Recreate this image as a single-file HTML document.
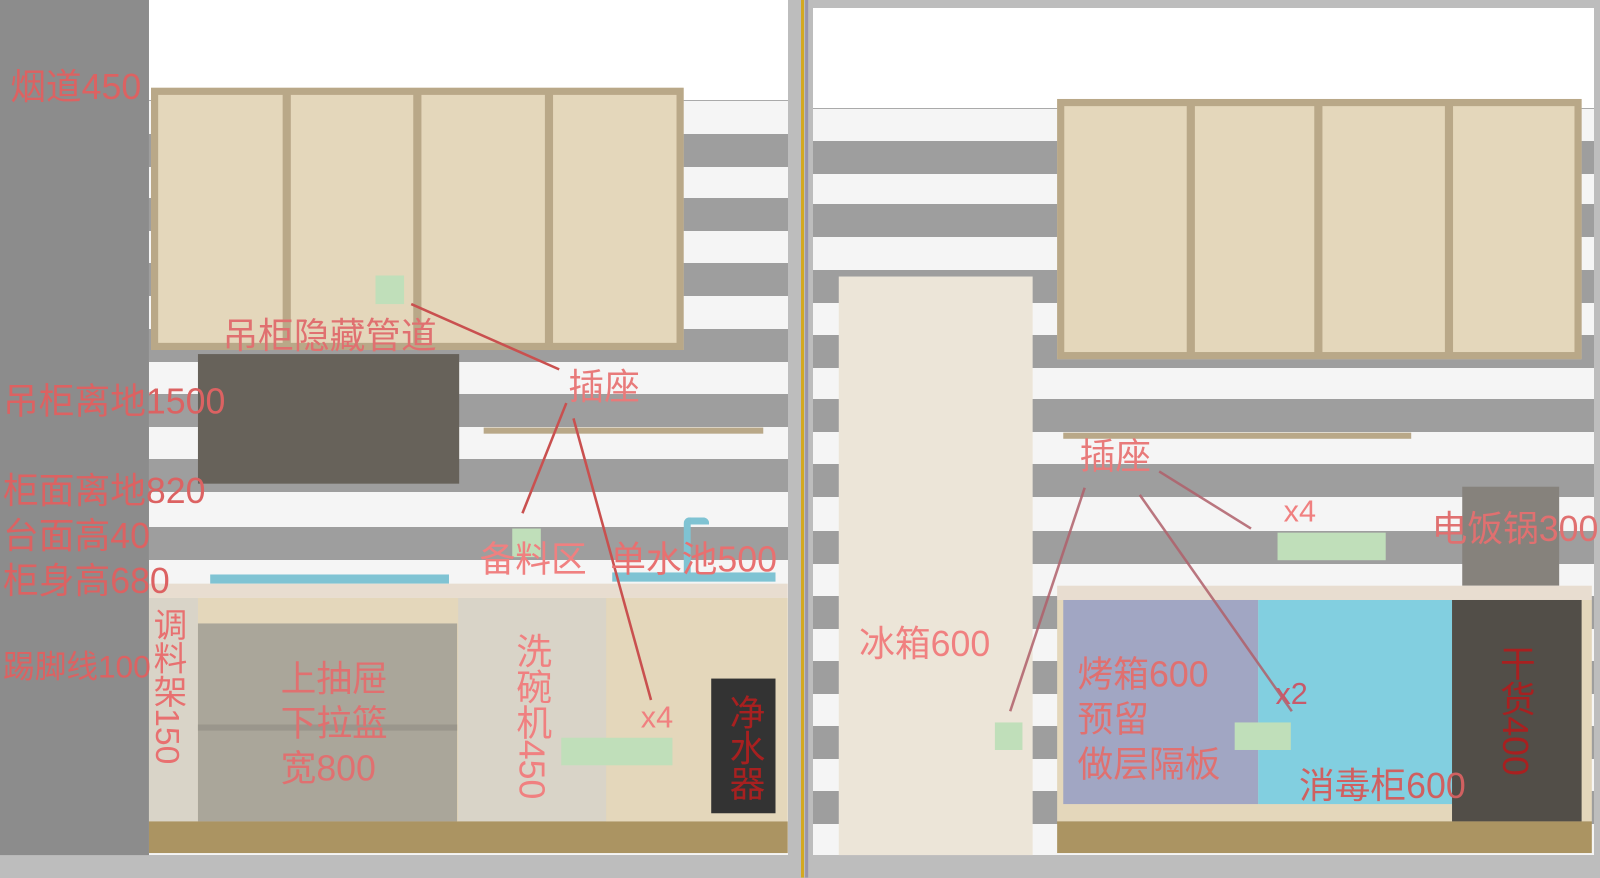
<!DOCTYPE html>
<html><head><meta charset="utf-8"><style>
body{margin:0;width:1600px;height:860px;position:relative;overflow:hidden;background:#bdbdbd;font-family:"Liberation Sans Narrow","Liberation Sans","Noto Sans CJK SC",sans-serif}
div{position:absolute;box-sizing:border-box}
#s{left:0;top:0;width:1568px;height:843px;transform:scale(1.0204);transform-origin:0 0}
.l{color:#dc6262;font-size:35px;line-height:1;white-space:nowrap}
.g{background:#9e9e9e;height:33px}
.w{background:#f5f5f5}
.cab{background:#e4d7bb;border:7px solid #b9a888}
.dv{background:#b9a888;width:8px}
.gr{background:#c0dfba}
.v{writing-mode:vertical-rl;}
</style></head><body>
<!-- unscaled backgrounds (real coords) -->
<div style="left:0;top:0;width:788px;height:855px;background:#fff"></div>
<div class="w" style="left:149px;top:100px;width:639px;height:755px;border-top:1px solid #aaa"></div>
<div class="g" style="left:149px;top:134px;width:639px"></div>
<div class="g" style="left:149px;top:198px;width:639px"></div>
<div class="g" style="left:149px;top:263px;width:639px"></div>
<div class="g" style="left:149px;top:329px;width:639px"></div>
<div class="g" style="left:149px;top:394px;width:639px"></div>
<div class="g" style="left:149px;top:459px;width:639px"></div>
<div class="g" style="left:149px;top:527px;width:639px"></div>
<div style="left:813px;top:8px;width:781px;height:847px;background:#fff"></div>
<div class="w" style="left:813px;top:108px;width:781px;height:747px;border-top:1px solid #aaa"></div>
<div class="g" style="left:813px;top:141px;width:781px"></div>
<div class="g" style="left:813px;top:204px;width:781px"></div>
<div class="g" style="left:813px;top:270px;width:781px"></div>
<div class="g" style="left:813px;top:335px;width:781px"></div>
<div class="g" style="left:813px;top:399px;width:781px"></div>
<div class="g" style="left:813px;top:464px;width:781px"></div>
<div class="g" style="left:813px;top:531px;width:781px"></div>
<div class="g" style="left:813px;top:596px;width:781px"></div>
<div class="g" style="left:813px;top:661px;width:781px"></div>
<div class="g" style="left:813px;top:726px;width:781px"></div>
<div class="g" style="left:813px;top:791px;width:781px"></div>

<div id="s">
<div style="left:0;top:0;width:146px;height:838px;background:#8c8c8c"></div>
<div class="cab" style="left:148px;top:86px;width:522px;height:257px"></div>
<div class="dv" style="left:277px;top:90px;height:250px"></div>
<div class="dv" style="left:405px;top:90px;height:250px"></div>
<div class="dv" style="left:534px;top:90px;height:250px"></div>
<div class="gr" style="left:368px;top:270px;width:28px;height:28px"></div>
<div style="left:194px;top:347px;width:256px;height:127px;background:#67625a"></div>
<div style="left:474px;top:419px;width:274px;height:6px;background:#b9a888"></div>
<div style="left:206px;top:563px;width:234px;height:9px;background:#7fc3d3"></div>
<div style="left:600px;top:561px;width:160px;height:9px;background:#7fc3d3"></div>
<div style="left:670px;top:507px;width:25px;height:55px;border:7px solid #7fc3d3;border-bottom:none;border-radius:6px 6px 0 0;border-right-width:0"></div>
<div class="gr" style="left:502px;top:518px;width:28px;height:28px"></div>
<div style="left:146px;top:572px;width:626px;height:14px;background:#e8ddd0"></div>
<div style="left:146px;top:586px;width:626px;height:219px;background:#e4d7bb"></div>
<div style="left:146px;top:586px;width:48px;height:219px;background:#d9d4c8"></div>
<div style="left:194px;top:611px;width:254px;height:194px;background:#aaa69a"></div>
<div style="left:194px;top:710px;width:254px;height:6px;background:#9a968c"></div>
<div style="left:449px;top:586px;width:145px;height:219px;background:#d9d4c8"></div>
<div style="left:697px;top:665px;width:63px;height:132px;background:#333"></div>
<div class="gr" style="left:550px;top:723px;width:109px;height:27px"></div>
<div style="left:146px;top:805px;width:626px;height:31px;background:#ab9462"></div>
<div style="left:785px;top:0;width:3px;height:860px;background:#d4a820"></div>
<div style="left:789px;top:0;width:3px;height:860px;background:#9a94a8"></div>
<div class="cab" style="left:1036px;top:97px;width:514px;height:255px"></div>
<div class="dv" style="left:1163px;top:100px;height:249px"></div>
<div class="dv" style="left:1288px;top:100px;height:249px"></div>
<div class="dv" style="left:1416px;top:100px;height:249px"></div>
<div style="left:822px;top:271px;width:190px;height:567px;background:#ece5d8"></div>
<div style="left:1042px;top:424px;width:341px;height:6px;background:#b9a888"></div>
<div style="left:1433px;top:477px;width:95px;height:97px;background:#86827c"></div>
<div class="gr" style="left:1252px;top:522px;width:106px;height:27px"></div>
<div style="left:1036px;top:574px;width:524px;height:14px;background:#e8ddd0"></div>
<div style="left:1036px;top:588px;width:524px;height:217px;background:#e4d7bb"></div>
<div style="left:1042px;top:588px;width:191px;height:200px;background:#a1a6c3"></div>
<div style="left:1233px;top:588px;width:190px;height:200px;background:#82cfe0"></div>
<div style="left:1423px;top:588px;width:127px;height:217px;background:#524e48"></div>
<div style="left:1036px;top:805px;width:524px;height:31px;background:#ab9462"></div>
<div class="gr" style="left:975px;top:708px;width:27px;height:27px"></div>
<div class="gr" style="left:1210px;top:708px;width:55px;height:27px"></div>
<svg style="position:absolute;left:0;top:0" width="1568" height="843">
<g stroke="#c9504f" stroke-width="2.5">
<line x1="403" y1="298" x2="548" y2="362"/>
<line x1="555" y1="395" x2="512" y2="503"/>
<line x1="562" y1="410" x2="638" y2="686"/>
</g>
<g stroke="#b0606a" stroke-width="2.5" opacity="0.85">
<line x1="1063" y1="478" x2="990" y2="697"/>
<line x1="1117" y1="485" x2="1266" y2="697"/>
<line x1="1136" y1="462" x2="1226" y2="518"/>
</g>
</svg>
<div class="l" style="left:10px;top:68px">烟道450</div>
<div class="l" style="left:218px;top:312px;color:#e07070">吊柜隐藏管道</div>
<div class="l" style="left:3px;top:376px">吊柜离地1500</div>
<div class="l" style="left:557px;top:362px;color:#e87a7a">插座</div>
<div class="l" style="left:3px;top:464px">柜面离地820</div>
<div class="l" style="left:3px;top:508px">台面高40</div>
<div class="l" style="left:3px;top:552px">柜身高680</div>
<div class="l" style="left:470px;top:531px;color:#f08080">备料区</div>
<div class="l" style="left:598px;top:531px;color:#e87070">单水池500</div>
<div class="l" style="left:3px;top:638px;font-size:31px">踢脚线100</div>
<div class="l v" style="left:148px;top:595px;font-size:33px;color:#e87070">调料架150</div>
<div class="l" style="left:275px;top:644px;line-height:44px;color:#e07070">上抽屉<br>下拉篮<br>宽800</div>
<div class="l v" style="left:503px;top:620px;color:#f08080">洗碗机450</div>
<div class="l" style="left:628px;top:689px;font-size:30px;color:#f08080">x4</div>
<div class="l v" style="left:712px;top:680px;color:#a82020">净水器</div>
<div class="l" style="left:1058px;top:430px;color:#e87a7a">插座</div>
<div class="l" style="left:1258px;top:487px;font-size:30px;color:#f08080">x4</div>
<div class="l" style="left:1403px;top:501px;color:#e07070">电饭锅300</div>
<div class="l" style="left:842px;top:614px;color:#f08080">冰箱600</div>
<div class="l" style="left:1056px;top:640px;line-height:44px;color:#e07070">烤箱600<br>预留<br>做层隔板</div>
<div class="l" style="left:1250px;top:666px;font-size:30px;color:#c85a6a">x2</div>
<div class="l" style="left:1273px;top:753px;color:#d06060">消毒柜600</div>
<div class="l v" style="left:1467px;top:632px;color:#a82020">干货400</div>
</div>
</body></html>
